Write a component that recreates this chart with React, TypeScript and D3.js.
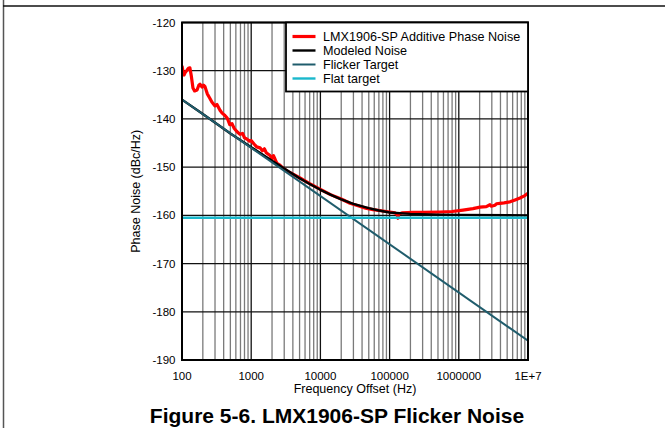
import React from "react";
import * as d3 from "d3";

const xTicks = [100, 1000, 10000, 100000, 1000000, 10000000];
const xTickLabels = ["100", "1000", "10000", "100000", "1000000", "1E+7"];
const yTicks = [-120, -130, -140, -150, -160, -170, -180, -190];

const measuredFreq = [
  100, 104, 107, 112, 118, 124, 130, 136, 144, 152, 165, 175, 182, 195, 205, 215, 225, 232, 250, 270,
  300, 320, 354, 380, 418, 450, 490, 528, 570, 620, 689, 750, 800, 870, 950, 1000, 1100, 1200, 1340, 1450,
  1550, 1650, 1870, 2000, 2100, 2350, 2600, 2880, 3500, 5000, 7000, 10000, 14000, 20000, 26800, 35000,
  45000, 57500, 80000, 100000, 120000, 128000, 132000, 136000, 150000, 218000, 300000, 535000, 800000,
  1150000, 1600000, 2025000, 2500000, 2820000, 2950000, 3340000, 3500000, 3940000, 4500000, 5500000,
  6500000, 7660000, 9000000, 10000000,
];
const measuredDb = [
  -129.0, -130.4, -130.9, -130.3, -129.9, -129.5, -129.4, -131.0, -133.6, -134.2, -134.0, -133.0, -132.8,
  -133.4, -133.0, -133.3, -134.2, -134.8, -135.6, -136.5, -137.3, -137.0, -138.2, -138.8, -139.3, -139.8,
  -141.2, -141.0, -142.0, -142.6, -143.2, -143.0, -143.9, -144.2, -144.6, -144.5, -145.2, -145.8, -146.0,
  -146.6, -146.2, -147.0, -147.6, -148.2, -147.6, -149.2, -149.6, -150.2, -151.0, -152.2, -153.4, -154.6,
  -155.7, -156.6, -157.5, -158.0, -158.5, -158.8, -159.1, -159.3, -159.5, -159.8, -160.6, -159.7, -159.5,
  -159.4, -159.4, -159.3, -159.2, -158.9, -158.6, -158.3, -158.2, -157.8, -158.1, -157.9, -157.6, -157.5,
  -157.4, -157.2, -156.8, -156.4, -155.9, -155.4,
];

const modelFreq = [100, 200, 500, 1000, 2000, 3000, 5000, 7000, 10000, 15000, 20000, 30000, 50000, 70000, 100000, 200000, 500000, 1000000, 10000000];
const modelDb = [-136.0, -139.0, -143.0, -145.85, -148.7, -150.3, -152.3, -153.5, -154.7, -155.9, -156.7, -157.6, -158.5, -159.0, -159.4, -159.7, -159.85, -159.9, -160.0];

const flickerFreq = [100, 10000000];
const flickerDb = [-136, -186];

const flatFreq = [100, 10000000];
const flatDb = [-160.5, -160.5];

const legendLabels = ["LMX1906-SP Additive Phase Noise", "Modeled Noise", "Flicker Target", "Flat target"];
const seriesColors = ["#ff0000", "#000000", "#1f5c6c", "#1ab8cc"];
const seriesWidths = [3.2, 2.4, 2, 2.4];

const W = 665;
const H = 428;
const L = 182, R = 528, T = 22.5, B = 360;

export default function App() {
  const x = d3.scaleLog().domain([100, 1e7]).range([L, R]);
  const y = d3.scaleLinear().domain([-190, -120]).range([B, T]);
  const line = d3.line<[number, number]>().x((d) => x(d[0])).y((d) => y(d[1]));

  const series = [
    measuredFreq.map((f, i) => [f, measuredDb[i]] as [number, number]),
    modelFreq.map((f, i) => [f, modelDb[i]] as [number, number]),
    flickerFreq.map((f, i) => [f, flickerDb[i]] as [number, number]),
    flatFreq.map((f, i) => [f, flatDb[i]] as [number, number]),
  ];

  const minor: number[] = [];
  const major: number[] = [];
  for (let k = 2; k <= 6; k++) {
    const base = Math.pow(10, k);
    if (k > 2) major.push(base);
    for (let m = 2; m <= 9; m++) minor.push(base * m);
  }

  const font = "'Liberation Sans', Arial, sans-serif";
  const legX = 286, legY = T, legW = R - 286, legH = 69;

  return (
    <div style={{ position: "fixed", left: 0, top: 0 }}>
      <svg width={W} height={H} style={{ display: "block", background: "#fff" }} fontFamily={font}>
        <defs>
          <clipPath id="plot">
            <rect x={L} y={T} width={R - L} height={B - T} />
          </clipPath>
        </defs>
        {/* outer cell border */}
        <line x1={3.5} y1={0} x2={3.5} y2={H} stroke="#555" strokeWidth={1.5} />
        <line x1={3} y1={6} x2={W} y2={6} stroke="#111" strokeWidth={1.5} />

        {/* grid */}
        {minor.map((v) => (
          <line key={"mi" + v} x1={x(v)} x2={x(v)} y1={T} y2={B} stroke="#7a7a7a" strokeWidth={1.3} />
        ))}
        {major.map((v) => (
          <line key={"ma" + v} x1={x(v)} x2={x(v)} y1={T} y2={B} stroke="#111" strokeWidth={1.3} />
        ))}
        {yTicks.map((v) => (
          <line key={"h" + v} x1={L} x2={R} y1={y(v)} y2={y(v)} stroke="#111" strokeWidth={1.3} />
        ))}

        {/* series */}
        <g clipPath="url(#plot)">
          {series.map((s, i) => (
            <path key={i} d={line(s) || ""} fill="none" stroke={seriesColors[i]} strokeWidth={seriesWidths[i]} strokeLinejoin="round" />
          ))}
        </g>

        {/* frame */}
        <rect x={L} y={T} width={R - L} height={B - T} fill="none" stroke="#000" strokeWidth={2} />

        {/* legend */}
        <rect x={legX} y={legY} width={legW} height={legH} fill="#fff" stroke="#000" strokeWidth={1.8} />
        {legendLabels.map((t, i) => {
          const cy = 36.5 + i * 14;
          return (
            <g key={t}>
              <line x1={292.5} x2={315.5} y1={cy} y2={cy} stroke={seriesColors[i]} strokeWidth={seriesWidths[i]} />
              <text x={323} y={cy} dy="0.36em" fontSize={12.6} fill="#000">{t}</text>
            </g>
          );
        })}

        {/* y ticks */}
        {yTicks.map((v) => (
          <text key={"yt" + v} x={175.5} y={y(v)} dy="0.36em" textAnchor="end" fontSize={11.5} fill="#000">{v}</text>
        ))}
        {/* x ticks */}
        {xTicks.map((v, i) => (
          <text key={"xt" + v} x={x(v)} y={380} textAnchor="middle" fontSize={11.5} fill="#000">{xTickLabels[i]}</text>
        ))}
        <text x={355} y={393} textAnchor="middle" fontSize={12.5} fill="#000">Frequency Offset (Hz)</text>
        <text transform={`translate(140, ${(T + B) / 2}) rotate(-90)`} textAnchor="middle" fontSize={12.5} fill="#000">Phase Noise (dBc/Hz)</text>

        <text x={337} y={423} textAnchor="middle" fontSize={21} fontWeight="bold" fill="#000">Figure 5-6. LMX1906-SP Flicker Noise</text>
      </svg>
    </div>
  );
}
